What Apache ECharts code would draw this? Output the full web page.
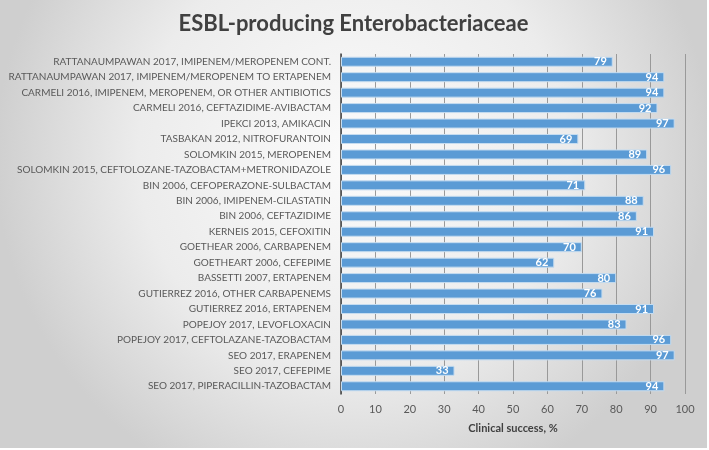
<!DOCTYPE html>
<html>
<head>
<meta charset="utf-8">
<script src="https://cdn.jsdelivr.net/npm/echarts@6/dist/echarts.min.js"></script>
<style>
  html, body { margin: 0; padding: 0; background: #ffffff; }
  #chart { width: 707px; height: 448px; }
</style>
</head>
<body>
<div id="chart"></div>
<script>
const studies = [
  'RATTANAUMPAWAN 2017, IMIPENEM/MEROPENEM CONT.',
  'RATTANAUMPAWAN 2017, IMIPENEM/MEROPENEM TO ERTAPENEM',
  'CARMELI 2016, IMIPENEM, MEROPENEM, OR OTHER ANTIBIOTICS',
  'CARMELI 2016, CEFTAZIDIME-AVIBACTAM',
  'IPEKCI 2013, AMIKACIN',
  'TASBAKAN 2012, NITROFURANTOIN',
  'SOLOMKIN 2015, MEROPENEM',
  'SOLOMKIN 2015, CEFTOLOZANE-TAZOBACTAM+METRONIDAZOLE',
  'BIN 2006, CEFOPERAZONE-SULBACTAM',
  'BIN 2006, IMIPENEM-CILASTATIN',
  'BIN 2006, CEFTAZIDIME',
  'KERNEIS 2015, CEFOXITIN',
  'GOETHEAR 2006, CARBAPENEM',
  'GOETHEART 2006, CEFEPIME',
  'BASSETTI 2007, ERTAPENEM',
  'GUTIERREZ 2016, OTHER CARBAPENEMS',
  'GUTIERREZ 2016, ERTAPENEM',
  'POPEJOY 2017, LEVOFLOXACIN',
  'POPEJOY 2017, CEFTOLAZANE-TAZOBACTAM',
  'SEO 2017, ERAPENEM',
  'SEO 2017, CEFEPIME',
  'SEO 2017, PIPERACILLIN-TAZOBACTAM'
];
const success = [79, 94, 94, 92, 97, 69, 89, 96, 71, 88, 86, 91, 70, 62, 80, 76, 91, 83, 96, 97, 33, 94];

const chart = echarts.init(document.getElementById('chart'));

chart.setOption({
  backgroundColor: new echarts.graphic.RadialGradient(0.5, 0.35, 0.8, [
    { offset: 0, color: '#fbfbfb' },
    { offset: 0.6, color: '#ececec' },
    { offset: 1, color: '#cfcfcf' }
  ]),
  textStyle: { fontFamily: 'Lato, "Open Sans", sans-serif' },
  title: {
    text: 'ESBL-producing Enterobacteriaceae',
    left: 'center',
    top: 8,
    textStyle: { fontSize: 22, fontWeight: 'bold', color: '#404040', fontFamily: 'Lato, sans-serif' }
  },
  grid: { left: 341, right: 22, top: 54, bottom: 54 },
  xAxis: {
    type: 'value',
    min: 0,
    max: 100,
    interval: 10,
    name: 'Clinical success, %',
    nameLocation: 'middle',
    nameGap: 29,
    nameTextStyle: { fontSize: 11, fontWeight: 'bold', color: '#404040' },
    axisLine: { show: false },
    axisTick: { show: false },
    axisLabel: { fontSize: 11, color: '#595959', margin: 10 },
    splitLine: { lineStyle: { color: '#999999', width: 1 } }
  },
  yAxis: {
    type: 'category',
    inverse: true,
    data: studies,
    axisLine: { show: true, lineStyle: { color: '#404040', width: 1.5 } },
    axisTick: { show: false },
    axisLabel: { fontSize: 10, color: '#595959', margin: 10 }
  },
  series: [{
    type: 'bar',
    data: success,
    barWidth: 10,
    itemStyle: { color: '#5b9bd5', borderColor: '#c5dcf0', borderWidth: 1 },
    label: {
      show: true,
      position: 'insideRight',
      distance: 6,
      color: '#ffffff',
      fontSize: 11,
      fontWeight: 'bold'
    }
  }]
});

window.addEventListener('resize', () => chart.resize());
</script>
</body>
</html>
